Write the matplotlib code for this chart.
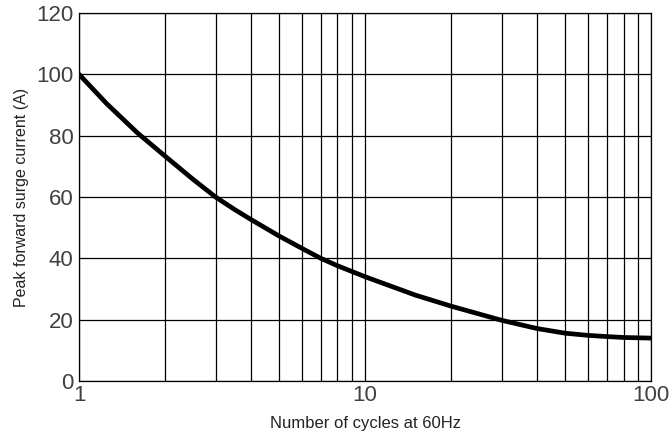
import matplotlib.pyplot as plt

plt.rcParams['font.family'] = ['Liberation Sans', 'DejaVu Sans']

# curve
cycles = [1, 1.25, 1.6, 2, 2.5, 3, 3.5, 4, 5, 6, 7, 8, 9, 10, 15, 20, 30, 40, 50, 60, 70, 80, 100]
current = [100, 90.4, 80.9, 73.3, 65.8, 60, 55.9, 52.6, 47.3, 43.3, 40, 37.6, 35.7, 34,
           28, 24.4, 19.8, 17.1, 15.6, 14.9, 14.5, 14.2, 14]

y_ticks = [0, 20, 40, 60, 80, 100, 120]
x_ticks = [1, 10, 100]
x_labels = ['1', '10', '100']

fig = plt.figure(figsize=(6.7, 4.33), dpi=100)
ax = fig.add_axes([0.118, 0.12, 0.854, 0.85])

ax.plot(cycles, current, color='black', linewidth=3.4, solid_capstyle='round',
        solid_joinstyle='round', zorder=3)

ax.set_xscale('log')
ax.set_xlim(1, 100)
ax.set_ylim(0, 120)
ax.set_yticks(y_ticks)
ax.set_xticks(x_ticks)
ax.set_xticklabels(x_labels)
ax.grid(True, which='both', axis='x', color='black', linewidth=0.9)
ax.grid(True, which='major', axis='y', color='black', linewidth=0.9)
ax.tick_params(which='both', length=0, labelsize=16, colors='#404040')
ax.tick_params(axis='y', pad=4)
ax.tick_params(axis='x', pad=3)
for s in ax.spines.values():
    s.set_linewidth(0.9)

ax.set_xlabel('Number of cycles at 60Hz', fontsize=12, color='#222222')
ax.set_ylabel('Peak forward surge current (A)', fontsize=11.5, color='#222222')
ax.xaxis.set_label_coords(0.5, -0.095)
ax.yaxis.set_label_coords(-0.1, 0.5)
ax.yaxis.label.set_va('center')
ax.xaxis.label.set_va('top')

fig.savefig('out.png', dpi=100)
